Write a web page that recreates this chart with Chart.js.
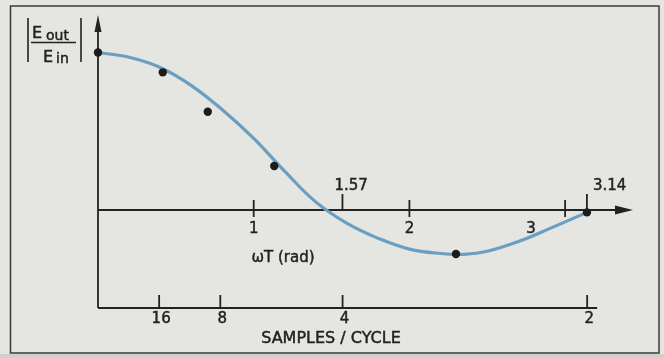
<!DOCTYPE html>
<html>
<head>
<meta charset="utf-8">
<script src="https://cdn.jsdelivr.net/npm/chart.js@4"></script>
<style>
html, body { margin: 0; padding: 0; background: #e5e5e2; }
#wrap { width: 664px; height: 358px; }
</style>
</head>
<body>
<div id="wrap"><canvas id="responseChart" width="664" height="358"></canvas></div>
<script>
// smooth response curve, ωT in radians
const curveOmegaT = [0, 0.2, 0.4, 0.6, 0.8, 1.0, 1.2, 1.4, 1.6, 1.8, 2.0, 2.2, 2.35, 2.5, 2.7, 2.9, 3.14];
const curveGain   = [1.0, 0.97, 0.905, 0.79, 0.635, 0.455, 0.245, 0.05, -0.085, -0.18, -0.248, -0.276, -0.281, -0.262, -0.2, -0.118, -0.015];

// measured samples
const sampleOmegaT = [0, 0.416, 0.705, 1.132, 2.299, 3.14];
const sampleGain   = [1.0, 0.874, 0.624, 0.279, -0.279, -0.015];

// tick marks on the ωT axis
const radTicks = [1, 1.57, 2, 3, 3.14];
const radTickLabels = ['1', '1.57', '2', '3', '3.14'];

// samples per cycle scale (ωT = 2π / N)
const samplesPerCycle = [16, 8, 4, 2];

const INK = '#222222';
const FONT = '"DejaVu Sans", sans-serif';

function toPoints(xs, ys) {
    return xs.map((x, i) => ({ x: x, y: ys[i] }));
}

// lettering a touch heavier than the plain font
function letter(ctx, text, x, y) {
    ctx.fillText(text, x, y);
    ctx.lineWidth = 0.45;
    ctx.strokeText(text, x, y);
}

function arrowHead(ctx, tipX, tipY, dir) {
    ctx.beginPath();
    if (dir === 'up') {
        ctx.moveTo(tipX, tipY);
        ctx.lineTo(tipX - 3.5, tipY + 17);
        ctx.lineTo(tipX + 3.5, tipY + 17);
    } else {
        ctx.moveTo(tipX, tipY);
        ctx.lineTo(tipX - 18, tipY - 4.5);
        ctx.lineTo(tipX - 18, tipY + 4.5);
    }
    ctx.closePath();
    ctx.fill();
}

const figurePlugin = {
    id: 'figure',
    beforeDraw(chart) {
        const ctx = chart.ctx;
        ctx.save();
        ctx.fillStyle = '#e5e5e2';
        ctx.fillRect(0, 0, chart.width, chart.height);
        ctx.fillStyle = '#cfcfcc';
        ctx.fillRect(0, 354, chart.width, chart.height - 354);
        ctx.strokeStyle = '#3a3a3a';
        ctx.lineWidth = 1.5;
        ctx.strokeRect(10.5, 6, 648.5, 347);
        ctx.restore();
    },
    beforeDatasetsDraw(chart) {
        const ctx = chart.ctx;
        const xs = chart.scales.x;
        const ys = chart.scales.y;
        const area = chart.chartArea;
        const x0 = xs.getPixelForValue(0);
        const y0 = ys.getPixelForValue(0);

        ctx.save();
        ctx.strokeStyle = INK;
        ctx.fillStyle = INK;
        ctx.lineWidth = 1.8;

        // vertical axis
        ctx.beginPath();
        ctx.moveTo(x0, area.bottom);
        ctx.lineTo(x0, area.top + 10);
        ctx.stroke();
        arrowHead(ctx, x0, area.top, 'up');

        // ωT axis
        ctx.beginPath();
        ctx.moveTo(x0, y0);
        ctx.lineTo(area.right - 10, y0);
        ctx.stroke();
        arrowHead(ctx, area.right, y0, 'right');

        ctx.font = '15px ' + FONT;
        ctx.textBaseline = 'middle';
        radTicks.forEach((v, i) => {
            const px = xs.getPixelForValue(v);
            const label = radTickLabels[i];
            const above = label.includes('.');
            ctx.lineWidth = 1.8;
            ctx.beginPath();
            if (above) {
                ctx.moveTo(px, y0 - 16);
                ctx.lineTo(px, y0);
            } else {
                ctx.moveTo(px, y0 - 10);
                ctx.lineTo(px, y0 + 7);
            }
            ctx.stroke();
            if (above) {
                ctx.textAlign = 'left';
                letter(ctx, label, v > 3 ? px + 6 : px - 8, y0 - 24);
            } else {
                ctx.textAlign = 'center';
                // the 3 sits left of its tick, clear of the curve
                letter(ctx, label, label === '3' ? px - 34 : px, y0 + 19);
            }
        });

        ctx.textAlign = 'center';
        letter(ctx, 'ωT (rad)', x0 + 185, y0 + 48);

        // samples / cycle axis along the bottom
        const piPx = xs.getPixelForValue(Math.PI);
        ctx.lineWidth = 1.8;
        ctx.beginPath();
        ctx.moveTo(x0, area.bottom);
        ctx.lineTo(piPx + 10, area.bottom);
        ctx.stroke();
        samplesPerCycle.forEach(n => {
            const px = xs.getPixelForValue(2 * Math.PI / n);
            ctx.lineWidth = 1.8;
            ctx.beginPath();
            ctx.moveTo(px, area.bottom - 13);
            ctx.lineTo(px, area.bottom);
            ctx.stroke();
            letter(ctx, String(n), px + 2, area.bottom + 11);
        });
        ctx.font = '16px ' + FONT;
        letter(ctx, 'SAMPLES / CYCLE', 331, area.bottom + 31);

        // |Eout / Ein| title
        ctx.lineWidth = 1.6;
        ctx.beginPath();
        ctx.moveTo(28, 18); ctx.lineTo(28, 62);
        ctx.moveTo(81, 18); ctx.lineTo(81, 62);
        ctx.moveTo(31, 42.5); ctx.lineTo(76, 42.5);
        ctx.stroke();
        ctx.textAlign = 'left';
        ctx.textBaseline = 'alphabetic';
        ctx.font = '16px ' + FONT;
        letter(ctx, 'E', 32, 38);
        letter(ctx, 'E', 43, 62);
        ctx.font = '14px ' + FONT;
        letter(ctx, 'out', 46, 40);
        letter(ctx, 'in', 56, 63);
        ctx.restore();
    }
};

const ctx = document.getElementById('responseChart').getContext('2d');
new Chart(ctx, {
    type: 'scatter',
    data: {
        datasets: [{
            label: 'samples',
            data: toPoints(sampleOmegaT, sampleGain),
            pointRadius: 4.2,
            pointBackgroundColor: '#1c1c1c',
            pointBorderWidth: 0,
            showLine: false,
            clip: false,
            order: 0
        }, {
            label: 'response',
            data: toPoints(curveOmegaT, curveGain),
            showLine: true,
            pointRadius: 0,
            borderColor: '#6a9fc2',
            borderWidth: 3.2,
            tension: 0.4,
            clip: false,
            order: 1
        }]
    },
    options: {
        responsive: false,
        devicePixelRatio: 1,
        animation: false,
        layout: {
            padding: { left: 98, right: 31, top: 15, bottom: 50 }
        },
        plugins: {
            legend: { display: false },
            tooltip: { enabled: false }
        },
        scales: {
            x: { type: 'linear', min: 0, max: 3.436, display: false },
            y: { type: 'linear', min: -0.622, max: 1.238, display: false }
        }
    },
    plugins: [figurePlugin]
});
</script>
</body>
</html>
